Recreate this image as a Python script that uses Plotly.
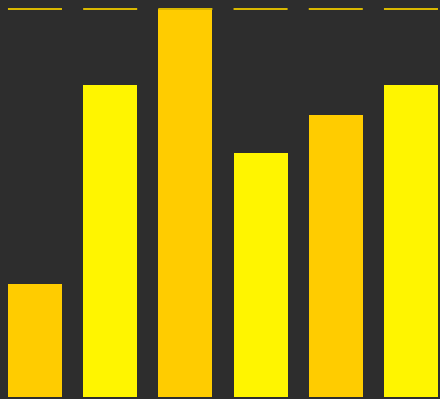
import plotly.graph_objects as go

categories = ["A", "B", "C", "D", "E", "F"]
values = [29, 80.4, 100, 63, 72.7, 80.4]
target = [100, 100, 100, 100, 100, 100]
bar_colors = ["#FFCC00", "#FFF500", "#FFCC00", "#FFF500", "#FFCC00", "#FFF500"]

BG = "#2d2d2d"

fig = go.Figure()
fig.add_trace(go.Bar(
    x=categories, y=values, width=0.72,
    marker=dict(color=bar_colors, line=dict(width=0)),
    showlegend=False,
))
fig.add_trace(go.Scatter(
    x=categories, y=target, mode="markers",
    marker=dict(symbol="line-ew", size=38.6, color="#D9B800",
                line=dict(color="#D9B800", width=2)),
    showlegend=False,
))
fig.update_layout(
    width=440, height=399,
    margin=dict(l=0, r=0, t=0, b=0),
    paper_bgcolor=BG, plot_bgcolor=BG,
    xaxis=dict(visible=False, range=[-0.465, 5.386]),
    yaxis=dict(visible=False, range=[-0.515, 102.3]),
    bargap=0,
)
fig.write_html(
    "out.html",
    config={"displayModeBar": False},
    post_script="document.body.style.margin='0';document.body.style.background='%s';" % BG,
)
